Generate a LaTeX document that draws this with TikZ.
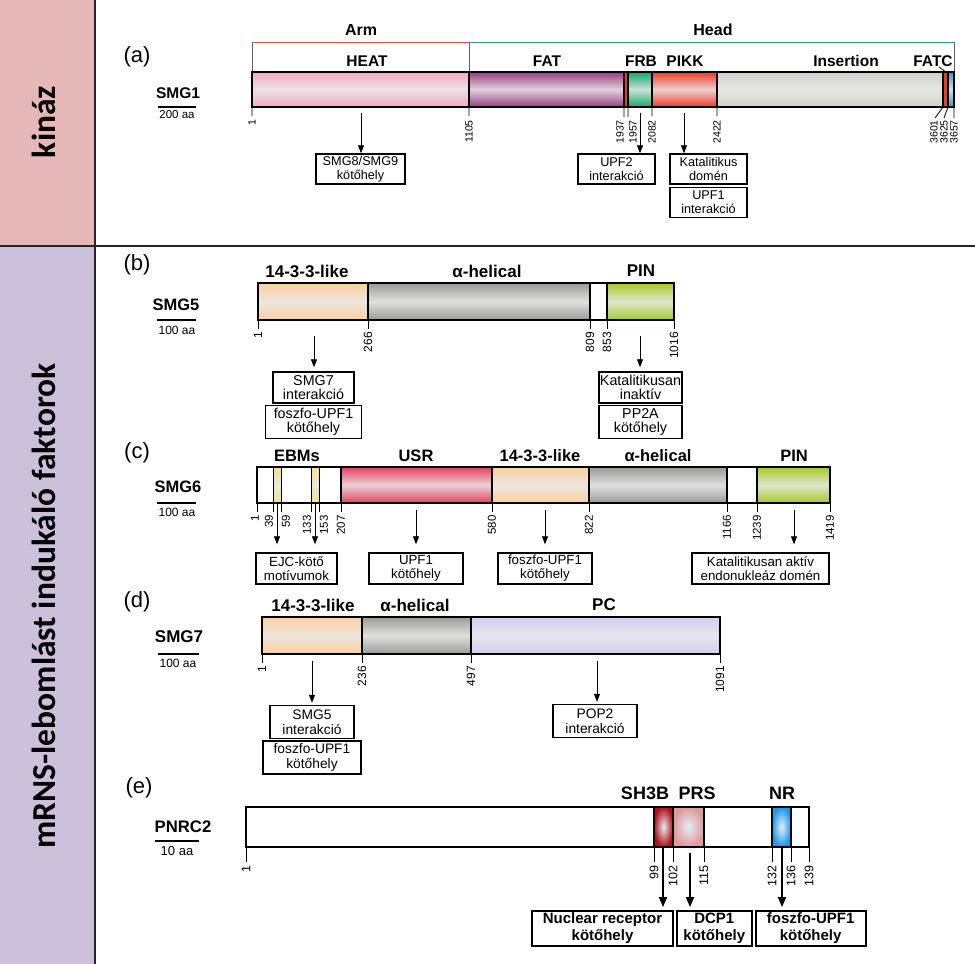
\documentclass[tikz,border=0pt]{standalone}
\usepackage{fontspec}
\setmainfont{Liberation Sans}
\newfontfamily\sidefont{Carlito}
\usetikzlibrary{positioning,arrows.meta}

\newcommand\sz[2]{\fontsize{#1}{#2}\selectfont}

\definecolor{kinazbg}{HTML}{E6B8B7}
\definecolor{nmdbg}{HTML}{CCC0DA}
\definecolor{framegrey}{HTML}{262626}
\definecolor{tickgrey}{HTML}{606060}
\definecolor{armred}{HTML}{D9534F}
\definecolor{headgreen}{HTML}{2E9E7A}
\definecolor{heatpink}{HTML}{F4AAC2}
\definecolor{fatpurple}{HTML}{993D80}
\definecolor{frbgreen}{HTML}{12A86A}
\definecolor{pikkred}{HTML}{EE3A2A}
\definecolor{insgrey}{HTML}{D2D2CA}
\definecolor{fatcblue}{HTML}{2E9BDB}
\definecolor{likepeach}{HTML}{FCCF9E}
\definecolor{helgrey}{HTML}{9B9B95}
\definecolor{pingreen}{HTML}{A3CA26}
\definecolor{usrred}{HTML}{E5405A}
\definecolor{ebmyellow}{HTML}{F8E08A}
\definecolor{pclilac}{HTML}{D5CCF2}
\definecolor{sh3red}{HTML}{B0121C}
\definecolor{prspink}{HTML}{E09A9A}
\definecolor{nrblue}{HTML}{1B9AE6}
\definecolor{spotcore}{HTML}{E4ECF6}

\begin{document}
\begin{tikzpicture}[x=1pt, y=-1pt,
    band/.style={top color=#1, bottom color=#1, middle color=#1!15!white!93!black},
    spot/.style={outer color=#1, inner color=spotcore},
    outline/.style={draw=black, line width=1.6pt},
    tick/.style={line width=0.8pt},
    num/.style={rotate=90, anchor=east, inner sep=0pt, font=\sz{#1}{#1}},
    domlabel/.style={font=\bfseries\sz{#1}{#1}},
    panel/.style={font=\sz{22}{22}},
    scalebar/.style={line width=1.6pt},
    scalelbl/.style={font=\sz{#1}{#1}},
    site/.style 2 args={draw=black, line width=1.4pt, align=center, inner sep=1pt, font=\sz{#1}{#2}},
    boldsite/.style={draw=black, line width=1.8pt, align=center, inner sep=1pt, font=\bfseries\sz{15}{17}},
    pointer/.style={-{Triangle[length=8pt,width=6pt]}, line width=0.8pt},
    boldpointer/.style={-{Triangle[length=10pt,width=8pt]}, line width=1.6pt},
    sidetitle/.style={rotate=90, font=\sidefont\bfseries\sz{33.5}{34}}]

\useasboundingbox (0,0) rectangle (975,964);

% Side column
\fill[kinazbg] (0,0) rectangle (95,246);
\fill[nmdbg] (0,246) rectangle (95,964);
\draw[framegrey, line width=2pt] (95,0) -- (95,964);
\draw[framegrey, line width=2.5pt] (0,246) -- (975,246);
\node[sidetitle] (kinaz) at (44,122) {kináz};
\node[sidetitle] (faktorok) at (44,606) {mRNS-lebomlást indukáló faktorok};

% (a) SMG1
\node[panel] (pa) at (137,57) {(a)};
\node[domlabel=15.5] (smg1) at (178,93) {SMG1};
\draw[scalebar] (158,107) -- (196,107);
\node[scalelbl=11.5] (smg1aa) at (177,115) {200 aa};
\draw[armred, line width=1pt] (252,42) -- (469,42);
\draw[headgreen, line width=1pt] (469,42) -- (954,42);
\draw[tickgrey, line width=1pt] (252,42) -- (252,72) (469,42) -- (469,72) (954,42) -- (954,72);
\node[domlabel=16] (arm) at (361,30) {Arm};
\node[domlabel=16] (head) at (713,30) {Head};
\node[domlabel=15.5] (heat) at (367,61) {HEAT};
\node[domlabel=15.5] (fat) at (547,61) {FAT};
\node[domlabel=15.5] (frb) at (641,61) {FRB};
\node[domlabel=15.5] (pikk) at (685,61) {PIKK};
\node[domlabel=15.5] (insertion) at (846,61) {Insertion};
\node[domlabel=15.5] (fatc) at (933,61) {FATC};
\fill[band=heatpink] (252,72) rectangle (469,107);
\fill[band=fatpurple] (469,72) rectangle (624,107);
\fill[pikkred] (624,72) rectangle (628,107);
\fill[band=frbgreen] (628,72) rectangle (652,107);
\fill[band=pikkred] (652,72) rectangle (717,107);
\fill[band=insgrey] (717,72) rectangle (943,107);
\fill[pikkred] (943,72) rectangle (948,107);
\fill[band=fatcblue] (948,72) rectangle (954,107);
\draw[outline] (252,72) rectangle (954,107)
    (469,72) -- (469,107) (624,72) -- (624,107) (628,72) -- (628,107)
    (652,72) -- (652,107) (717,72) -- (717,107) (943,72) -- (943,107)
    (948,72) -- (948,107);
\draw[tick] (939,67) -- (947,73);
\draw[tick] (252,107) -- (252,116) (469,107) -- (469,116) (624,107) -- (624,117)
    (628,107) -- (628,117) (652,107) -- (652,116) (717,107) -- (717,116)
    (943,107) -- (935,118) (948,107) -- (944,118) (954,107) -- (954,118);
\node[num=10.5] (a1) at (252,119) {1};
\node[num=10.5] (a1105) at (469,120) {1105};
\node[num=10.5] (a1937) at (620,120) {1937};
\node[num=10.5] (a1957) at (633,120) {1957};
\node[num=10.5] (a2082) at (652,120) {2082};
\node[num=10.5] (a2422) at (717,120) {2422};
\node[num=10.5] (a3601) at (934,120) {3601};
\node[num=10.5] (a3625) at (944,120) {3625};
\node[num=10.5] (a3657) at (954,120) {3657};
\node[site={12.7}{13.5}, minimum width=89pt, minimum height=30pt] (smg89) at (360.5,169) {SMG8/SMG9\\kötőhely};
\node[site={12.7}{13.5}, minimum width=77pt, minimum height=30pt] (upf2) at (616.5,169) {UPF2\\interakció};
\node[site={12.7}{13.5}, minimum width=77pt, minimum height=30pt] (katdom) at (708.5,169) {Katalitikus\\domén};
\node[site={12.7}{13.5}, minimum width=77pt, minimum height=30pt, below=2pt of katdom] (upf1int) {UPF1\\interakció};
\coordinate (heatsrc) at (361,113);
\coordinate (frbsrc) at (640,113);
\coordinate (pikksrc) at (684,113);
\draw[pointer] (heatsrc) -- (heatsrc |- smg89.north);
\draw[pointer] (frbsrc) -- (frbsrc |- upf2.north);
\draw[pointer] (pikksrc) -- (pikksrc |- katdom.north);

% (b) SMG5
\node[panel] (pb) at (137,265) {(b)};
\node[domlabel=16.5] (smg5) at (176,305) {SMG5};
\draw[scalebar] (157,320) -- (196,320);
\node[scalelbl=12] (smg5aa) at (177,330) {100 aa};
\node[domlabel=17] (like5) at (307,271) {14-3-3-like};
\node[domlabel=17] (hel5) at (487,271) {α-helical};
\node[domlabel=17] (pin5) at (641,271) {PIN};
\fill[band=likepeach] (258,283) rectangle (368,320);
\fill[band=helgrey] (368,283) rectangle (590,320);
\fill[white] (590,283) rectangle (607,320);
\fill[band=pingreen] (607,283) rectangle (674,320);
\draw[outline] (258,283) rectangle (674,320)
    (368,283) -- (368,320) (590,283) -- (590,320) (607,283) -- (607,320);
\draw[tick] (258,320) -- (258,329) (368,320) -- (368,329) (590,320) -- (590,329)
    (607,320) -- (607,329) (674,320) -- (674,329);
\node[num=12] (b1) at (258,332) {1};
\node[num=12] (b266) at (368,332) {266};
\node[num=12] (b809) at (590,332) {809};
\node[num=12] (b853) at (607,332) {853};
\node[num=12] (b1016) at (674,332) {1016};
\node[site={14.3}{14.5}, minimum width=81pt, minimum height=31pt] (smg7int) at (313.5,387.5) {SMG7\\interakció};
\node[site={14.3}{14.5}, minimum width=96pt, minimum height=33pt, below=1pt of smg7int] (pupf5) {foszfo-UPF1\\kötőhely};
\node[site={14.3}{14.5}, minimum width=83pt, minimum height=31pt] (katin) at (640.5,387.5) {Katalitikusan\\inaktív};
\node[site={14.3}{14.5}, minimum width=83pt, minimum height=33pt, below=1pt of katin] (pp2a) {PP2A\\kötőhely};
\coordinate (like5src) at (314,336);
\coordinate (pin5src) at (640,336);
\draw[pointer, shorten >=4pt] (like5src) -- (like5src |- smg7int.north);
\draw[pointer, shorten >=4pt] (pin5src) -- (pin5src |- katin.north);

% (c) SMG6
\node[panel] (pc) at (137,453) {(c)};
\node[domlabel=16.5] (smg6) at (178,487) {SMG6};
\draw[scalebar] (157,503) -- (196,503);
\node[scalelbl=12] (smg6aa) at (177,512) {100 aa};
\node[domlabel=16.5] (ebms) at (297,456) {EBMs};
\node[domlabel=16.5] (usr) at (416,456) {USR};
\node[domlabel=16.5] (like6) at (540,456) {14-3-3-like};
\node[domlabel=16.5] (hel6) at (658,456) {α-helical};
\node[domlabel=16.5] (pin6) at (794,456) {PIN};
\fill[band=ebmyellow] (273,467) rectangle (281,503);
\fill[band=ebmyellow] (311,467) rectangle (319,503);
\fill[band=usrred] (341,467) rectangle (492,503);
\fill[band=likepeach] (492,467) rectangle (589,503);
\fill[band=helgrey] (589,467) rectangle (727,503);
\fill[band=pingreen] (757,467) rectangle (830,503);
\draw[outline] (257,467) rectangle (830,503)
    (341,467) -- (341,503) (492,467) -- (492,503) (589,467) -- (589,503)
    (727,467) -- (727,503) (757,467) -- (757,503);
\draw[line width=0.9pt] (273,467) -- (273,503) (281,467) -- (281,503)
    (311,467) -- (311,503) (319,467) -- (319,503);
\draw[tick] (257,503) -- (257,512) (273,503) -- (273,512) (281,503) -- (281,512)
    (311,503) -- (311,512) (319,503) -- (319,512) (341,503) -- (341,512)
    (492,503) -- (492,512) (589,503) -- (589,512) (727,503) -- (727,512)
    (757,503) -- (757,512) (830,503) -- (830,512);
\node[num=11.5] (c1) at (255,515) {1};
\node[num=11.5] (c39) at (269,515) {39};
\node[num=11.5] (c59) at (286,515) {59};
\node[num=11.5] (c133) at (307,515) {133};
\node[num=11.5] (c153) at (324,515) {153};
\node[num=11.5] (c207) at (341,515) {207};
\node[num=11.5] (c580) at (492,515) {580};
\node[num=11.5] (c822) at (589,515) {822};
\node[num=11.5] (c1166) at (727,515) {1166};
\node[num=11.5] (c1239) at (757,515) {1239};
\node[num=11.5] (c1419) at (830,515) {1419};
\node[site={13.3}{14}, minimum width=81pt, minimum height=31pt] (ejc) at (296.5,568.5) {EJC-kötő\\motívumok};
\node[site={13.3}{14}, minimum width=94pt, minimum height=31pt] (upf1c) at (416,568.5) {UPF1\\kötőhely};
\node[site={13.3}{14}, minimum width=94pt, minimum height=31pt] (pupf6) at (545,568.5) {foszfo-UPF1\\kötőhely};
\node[site={13.3}{14}, minimum width=137pt, minimum height=31pt] (endo) at (760.5,568.5) {Katalitikusan aktív\\endonukleáz domén};
\coordinate (ebm1src) at (277,503);
\coordinate (ebm2src) at (315,503);
\coordinate (usrsrc) at (416,510);
\coordinate (like6src) at (545,510);
\coordinate (pin6src) at (794,510);
\draw[pointer, shorten >=8pt] (ebm1src) -- (ebm1src |- ejc.north);
\draw[pointer, shorten >=8pt] (ebm2src) -- (ebm2src |- ejc.north);
\draw[pointer, shorten >=8pt] (usrsrc) -- (usrsrc |- upf1c.north);
\draw[pointer, shorten >=8pt] (like6src) -- (like6src |- pupf6.north);
\draw[pointer, shorten >=8pt] (pin6src) -- (pin6src |- endo.north);

% (d) SMG7
\node[panel] (pd) at (137,602) {(d)};
\node[domlabel=17] (smg7) at (179,637) {SMG7};
\draw[scalebar] (158,654) -- (199,654);
\node[scalelbl=12] (smg7aa) at (178,663) {100 aa};
\node[domlabel=17] (like7) at (313,605) {14-3-3-like};
\node[domlabel=17] (hel7) at (415,605) {α-helical};
\node[domlabel=17] (pc7) at (604,605) {PC};
\fill[band=likepeach] (262,617) rectangle (362,654);
\fill[band=helgrey] (362,617) rectangle (471,654);
\fill[band=pclilac] (471,617) rectangle (720,654);
\draw[outline] (262,617) rectangle (720,654)
    (362,617) -- (362,654) (471,617) -- (471,654);
\draw[tick] (262,654) -- (262,663) (362,654) -- (362,663) (471,654) -- (471,663)
    (720,654) -- (720,663);
\node[num=12] (d1) at (262,666) {1};
\node[num=12] (d236) at (362,666) {236};
\node[num=12] (d497) at (471,666) {497};
\node[num=12] (d1091) at (720,666) {1091};
\node[site={13.8}{14.5}, minimum width=84pt, minimum height=33pt] (smg5int) at (312,722) {SMG5\\interakció};
\node[site={13.8}{14.5}, minimum width=98pt, minimum height=33pt, below=1pt of smg5int] (pupf7) {foszfo-UPF1\\kötőhely};
\node[site={13.8}{14.5}, minimum width=84pt, minimum height=33pt] (pop2) at (595,721) {POP2\\interakció};
\coordinate (like7src) at (312,661);
\coordinate (pc7src) at (597,661);
\draw[pointer, shorten >=2pt] (like7src) -- (like7src |- smg5int.north);
\draw[pointer, shorten >=2pt] (pc7src) -- (pc7src |- pop2.north);

% (e) PNRC2
\node[panel] (pe) at (139,788) {(e)};
\node[domlabel=16.7] (pnrc2) at (183,827) {PNRC2};
\draw[scalebar] (155,841) -- (199,841);
\node[scalelbl=13] (pnrc2aa) at (177,851) {10 aa};
\node[domlabel=18] (sh3b) at (645,793) {SH3B};
\node[domlabel=18] (prs) at (697,793) {PRS};
\node[domlabel=18] (nr) at (782,793) {NR};
\fill[white] (246,807) rectangle (809,847);
\fill[spot=sh3red] (654,807) rectangle (673,847);
\fill[spot=prspink] (673,807) rectangle (704,847);
\fill[spot=nrblue] (772,807) rectangle (791,847);
\draw[outline] (246,807) rectangle (809,847)
    (654,807) -- (654,847) (673,807) -- (673,847) (704,807) -- (704,847)
    (772,807) -- (772,847) (791,807) -- (791,847);
\draw[tick] (246,847) -- (246,862) (654,847) -- (654,862) (673,847) -- (673,862)
    (704,847) -- (704,862) (772,847) -- (772,862) (791,847) -- (791,862)
    (809,847) -- (809,862);
\node[num=12.5] (e1) at (246,865) {1};
\node[num=12.5] (e99) at (654,865) {99};
\node[num=12.5] (e102) at (673,865) {102};
\node[num=12.5] (e115) at (704,865) {115};
\node[num=12.5] (e132) at (772,865) {132};
\node[num=12.5] (e136) at (791,865) {136};
\node[num=12.5] (e139) at (809,865) {139};
\node[boldsite, minimum width=141pt, minimum height=35pt] (nrbox) at (602.5,928.5) {Nuclear receptor\\kötőhely};
\node[boldsite, minimum width=75pt, minimum height=35pt, right=2pt of nrbox] (dcp1) {DCP1\\kötőhely};
\node[boldsite, minimum width=110pt, minimum height=35pt, right=2pt of dcp1] (pupfe) {foszfo-UPF1\\kötőhely};
\coordinate (sh3src) at (663,847);
\coordinate (prssrc) at (690,853);
\coordinate (nrsrc) at (782,848);
\draw[boldpointer, shorten >=3pt] (sh3src) -- (sh3src |- nrbox.north);
\draw[boldpointer, shorten >=3pt] (prssrc) -- (prssrc |- dcp1.north);
\draw[boldpointer, shorten >=3pt] (nrsrc) -- (nrsrc |- pupfe.north);
\end{tikzpicture}
\end{document}
